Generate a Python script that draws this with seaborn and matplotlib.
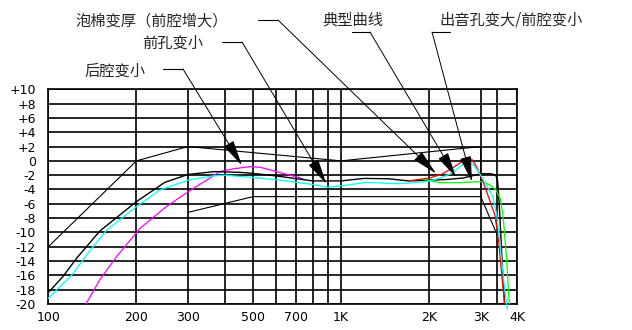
import matplotlib
matplotlib.use("Agg")
import matplotlib.pyplot as plt
from matplotlib.lines import Line2D
import seaborn as sns
import pandas as pd

# ---------------- data ----------------
typ_f = [100, 112, 125, 150, 200, 250, 300, 370, 450, 500, 600, 800, 1000, 1200, 1450, 1700,
         2000, 2300, 2600, 2800, 3000, 3250, 3380, 3430, 3470, 3520, 3570, 3620]
typ_db = [-18.4, -16.2, -13.6, -9.8, -5.7, -3.0, -1.9, -1.5, -1.6, -1.75, -2.1, -2.8, -2.8, -2.45, -2.5, -2.8,
          -2.7, -2.6, -2.4, -2.1, -1.8, -1.8, -2.0, -3.0, -6.0, -11.0, -16.0, -20.0]

cy_f = [100, 112, 120, 139, 158, 200, 240, 300, 366, 400, 490, 620, 800, 900, 1000, 1220, 1570, 1980,
        2180, 2400, 2600, 2720, 2850, 3000, 3150, 3300, 3400, 3500, 3600, 3700]
cy_db = [-19.2, -17.2, -16.0, -12.5, -9.7, -6.4, -4.1, -2.7, -2.1, -2.0, -2.3, -2.7, -3.3, -3.7, -3.5, -3.0, -3.2, -2.9,
         -2.4, -1.7, -0.5, 0.0, -0.7, -2.0, -3.5, -5.0, -7.5, -12.0, -17.0, -20.7]

mg_f = [134.5, 150, 171, 206, 253, 296, 347, 385, 430, 490, 530, 600, 700, 740]
mg_db = [-20.0, -16.6, -13.4, -9.4, -6.4, -4.5, -2.7, -1.5, -1.1, -0.8, -0.9, -1.5, -2.2, -2.5]

rd_f = [1700, 2000, 2200, 2400, 2550, 2700, 2800, 2900, 3050, 3200, 3350, 3450, 3550, 3620]
rd_db = [-2.8, -2.4, -1.9, -1.0, -0.3, 0.4, 0.2, -0.8, -2.8, -5.2, -7.5, -11.0, -16.5, -20.0]

gr_f = [1900, 2000, 2180, 2500, 3000, 3200, 3380, 3500, 3580, 3680, 3750, 3770]
gr_db = [-2.6, -2.75, -3.05, -3.05, -2.9, -3.3, -4.0, -5.3, -7.8, -14.0, -19.5, -20.0]

up_f = [100, 200, 300, 1000, 3000, 3000]
up_db = [-12.0, 0.0, 2.0, 0.0, 2.0, -5.0]

lo_f = [300, 500, 3000, 3420]
lo_db = [-7.2, -5.0, -5.0, -10.4]

x_grid = [100, 200, 300, 400, 500, 600, 700, 800, 900, 1000, 2000, 3000, 3400, 4000]
x_ticks = [100, 200, 300, 500, 700, 1000, 2000, 3000, 4000]
x_labels = ["100", "200", "300", "500", "700", "1K", "2K", "3K", "4K"]
y_ticks = list(range(-20, 11, 2))
y_labels = ["+%d" % v if v > 0 else "%d" % v for v in y_ticks]

notes = ["后腔变小", "前孔变小", "泡棉变厚（前腔增大）", "典型曲线", "出音孔变大/前腔变小"]
note_targets = [(458, -0.6), (890, -3.2), (2110, -1.75), (2470, -2.3), (2800, -2.9)]

# ---------------- style ----------------
sns.set_style("white")
plt.rcParams["font.family"] = ["DejaVu Sans"]

W, H = 632, 330
fig = plt.figure(figsize=(W / 100, H / 100), dpi=100)
ax = fig.add_axes([48.3 / W, (H - 304.0) / H, (517.3 - 48.3) / W, (304.0 - 89.3) / H])
ax.set_xscale("log")

GRID_LW = 1.2
for xv in x_grid:
    ax.axvline(xv, color="black", lw=GRID_LW, zorder=1)
for yv in y_ticks:
    ax.axhline(yv, color="black", lw=GRID_LW, zorder=1)

def draw(fx, dy, color, lw=0.9, clip=True):
    df = pd.DataFrame({"f": fx, "db": dy})
    sns.lineplot(data=df, x="f", y="db", ax=ax, color=color, lw=lw,
                 sort=False, estimator=None, legend=False, zorder=3)
    ax.lines[-1].set_clip_on(clip)

draw(up_f, up_db, "black", 0.8)
draw(lo_f, lo_db, "black", 0.8)
draw(mg_f, mg_db, "#FF00FF")
draw(typ_f, typ_db, "black", 1.0)
draw(gr_f, gr_db, "#00FF00")
draw(rd_f, rd_db, "#FF0000")
draw(cy_f, cy_db, "#00FFFF", clip=False)

ax.set_xlim(100, 4000)
ax.set_ylim(-20, 10)
ax.set_xticks(x_ticks)
ax.set_xticklabels(x_labels)
ax.xaxis.set_minor_locator(matplotlib.ticker.NullLocator())
ax.set_yticks(y_ticks)
ax.set_yticklabels(y_labels)
ax.tick_params(length=0, labelsize=9, colors="black")
ax.tick_params(axis="x", pad=5)
ax.tick_params(axis="y", pad=9)
ax.set_xlabel("")
ax.set_ylabel("")
for s in ax.spines.values():
    s.set_color("black")
    s.set_linewidth(GRID_LW)

# ---------------- annotations ----------------
def fx_(x):
    return x / W

def fy_(y):
    return 1 - y / H

cjk = ["Noto Sans CJK SC", "DejaVu Sans"]
# (text center x, text center y, underline x1, x2, y, diag start x, y)
layout = [
    (114.5, 71, 163, 183, 69, 183, 69),
    (173, 43, 222, 242, 42, 242, 42),
    (151.5, 21, 258, 278, 20, 278, 20),
    (352.5, 20, 352, 370, 32, 370, 32),
    (511, 20, 432, 450, 32, 432, 32),
]
for txt, tgt, (tx, ty, ux1, ux2, uy, sx, sy) in zip(notes, note_targets, layout):
    fig.text(fx_(tx), fy_(ty), txt, ha="center", va="center", fontsize=11, family=cjk)
    fig.add_artist(Line2D([fx_(ux1), fx_(ux2)], [fy_(uy), fy_(uy)],
                          transform=fig.transFigure, color="black", lw=0.8))
    ax.annotate("", xy=tgt, xycoords="data", xytext=(fx_(sx), fy_(sy)),
                textcoords="figure fraction", annotation_clip=False,
                arrowprops=dict(arrowstyle="-|>,head_length=1.6,head_width=0.35",
                                mutation_scale=10, lw=0.7, color="black",
                                shrinkA=0, shrinkB=0), zorder=5)

fig.savefig("out.png", dpi=100, facecolor="white")
